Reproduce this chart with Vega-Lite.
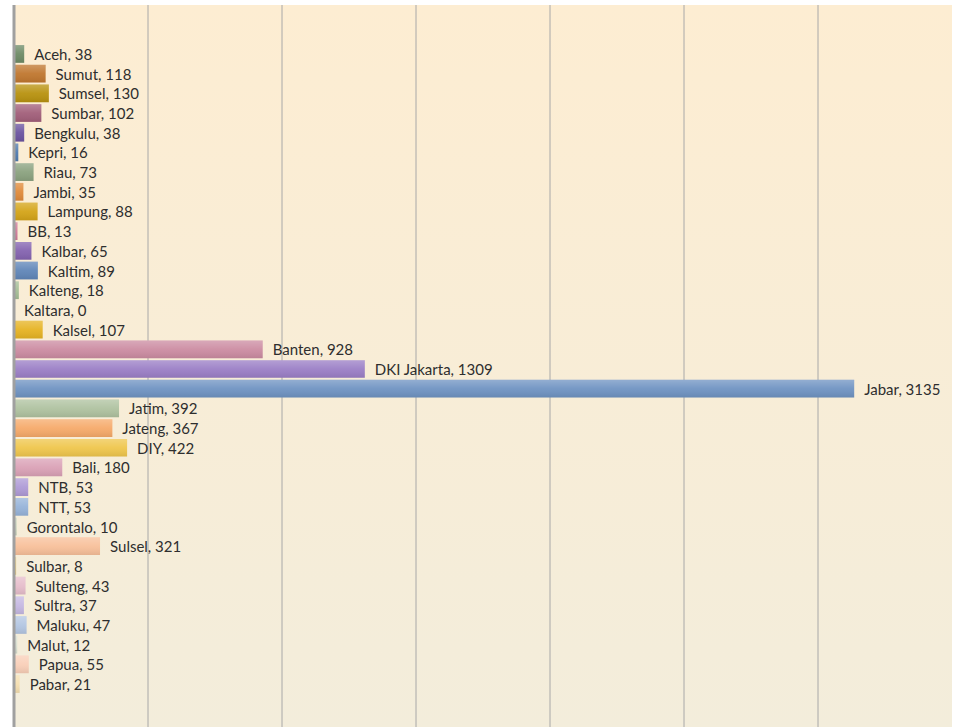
{
  "$schema": "https://vega.github.io/schema/vega-lite/v6.json",
  "autosize": {"type": "none"},
  "padding": {"left": 14, "top": 5, "right": 6, "bottom": 0},
  "width": 938,
  "height": 722,
  "background": "#ffffff",
  "config": {
    "view": {
      "stroke": null,
      "fill": {"gradient": "linear", "x1": 0, "y1": 0, "x2": 0, "y2": 1,
        "stops": [{"offset": 0, "color": "#FDEDD2"}, {"offset": 1, "color": "#F3EDDB"}]}
    },
    "font": "Lato"
  },
  "datasets": {
    "grid": [{"g": 500}, {"g": 1000}, {"g": 1500}, {"g": 2000}, {"g": 2500}, {"g": 3000}],
    "cases": [
    {"province": "Aceh", "value": 38, "order": 1},
    {"province": "Sumut", "value": 118, "order": 2},
    {"province": "Sumsel", "value": 130, "order": 3},
    {"province": "Sumbar", "value": 102, "order": 4},
    {"province": "Bengkulu", "value": 38, "order": 5},
    {"province": "Kepri", "value": 16, "order": 6},
    {"province": "Riau", "value": 73, "order": 7},
    {"province": "Jambi", "value": 35, "order": 8},
    {"province": "Lampung", "value": 88, "order": 9},
    {"province": "BB", "value": 13, "order": 10},
    {"province": "Kalbar", "value": 65, "order": 11},
    {"province": "Kaltim", "value": 89, "order": 12},
    {"province": "Kalteng", "value": 18, "order": 13},
    {"province": "Kaltara", "value": 0, "order": 14},
    {"province": "Kalsel", "value": 107, "order": 15},
    {"province": "Banten", "value": 928, "order": 16},
    {"province": "DKI Jakarta", "value": 1309, "order": 17},
    {"province": "Jabar", "value": 3135, "order": 18},
    {"province": "Jatim", "value": 392, "order": 19},
    {"province": "Jateng", "value": 367, "order": 20},
    {"province": "DIY", "value": 422, "order": 21},
    {"province": "Bali", "value": 180, "order": 22},
    {"province": "NTB", "value": 53, "order": 23},
    {"province": "NTT", "value": 53, "order": 24},
    {"province": "Gorontalo", "value": 10, "order": 25},
    {"province": "Sulsel", "value": 321, "order": 26},
    {"province": "Sulbar", "value": 8, "order": 27},
    {"province": "Sulteng", "value": 43, "order": 28},
    {"province": "Sultra", "value": 37, "order": 29},
    {"province": "Maluku", "value": 47, "order": 30},
    {"province": "Malut", "value": 12, "order": 31},
    {"province": "Papua", "value": 55, "order": 32},
    {"province": "Pabar", "value": 21, "order": 33}
  ]},
  "layer": [
    {
      "data": {"name": "grid"},
      "mark": {"type": "rule", "color": "#A8A8A8", "strokeWidth": 1},
      "encoding": {
        "x": {"field": "g", "type": "quantitative", "scale": {"domain": [0, 3500], "nice": false},
              "axis": null}
      }
    },
    {
      "data": {"name": "cases"},
      "transform": [{"calculate": "datum.province + ', ' + datum.value", "as": "label"}],
      "encoding": {
        "y": {
          "field": "province", "type": "nominal",
          "sort": {"field": "order", "order": "ascending"},
          "scale": {"paddingInner": 0.1, "paddingOuter": 0, "range": [40.1, 687.9]},
          "axis": null
        },
        "x": {
          "field": "value", "type": "quantitative",
          "scale": {"domain": [0, 3500], "nice": false},
          "axis": null
        }
      },
      "layer": [
        {
          "mark": {"type": "bar"},
          "encoding": {
            "color": {
              "field": "province", "type": "nominal", "legend": null,
              "scale": {
                "domain": ["Aceh","Sumut","Sumsel","Sumbar","Bengkulu","Kepri","Riau","Jambi","Lampung","BB","Kalbar","Kaltim","Kalteng","Kaltara","Kalsel","Banten","DKI Jakarta","Jabar","Jatim","Jateng","DIY","Bali","NTB","NTT","Gorontalo","Sulsel","Sulbar","Sulteng","Sultra","Maluku","Malut","Papua","Pabar"],
                "range": ["#6E8B66","#C0772F","#B8920F","#A25F7A","#6B54A0","#4F7BB0","#8BA27F","#E08A3A","#D4A418","#D07A99","#8463B0","#6086B8","#A5BE96","#9CB58E","#E6B323","#CC8CA2","#9B7FC6","#6F93C2","#AFC2A0","#F6AA6A","#EFC64C","#DAA1B6","#AE9AD6","#96B3D9","#C8D3BC","#F8C09A","#F2D380","#E6BDCB","#C5B8E2","#B3C6E2","#D8DFD0","#F9CFB8","#F5DFB0"]
              }
            }
          }
        },
        {
          "mark": {"type": "bar",
            "fill": {"gradient": "linear", "x1": 0, "y1": 0, "x2": 0, "y2": 1,
              "stops": [{"offset": 0, "color": "rgba(255,255,255,0.25)"}, {"offset": 0.5, "color": "rgba(255,255,255,0.05)"}, {"offset": 1, "color": "rgba(0,0,0,0.08)"}]}
          }
        },
        {
          "mark": {"type": "text", "align": "left", "baseline": "middle", "dx": 10, "dy": 1,
                   "fontSize": 15, "color": "#2E2E2E"},
          "encoding": {"text": {"field": "label", "type": "nominal"}}
        }
      ]
    },
    {
      "data": {"name": "grid"},
      "transform": [{"filter": "datum.g == 500"}],
      "mark": {"type": "rule", "color": "#A0A0A0", "strokeWidth": 3},
      "encoding": {"x": {"datum": 0, "type": "quantitative"}}
    }
  ]
}
